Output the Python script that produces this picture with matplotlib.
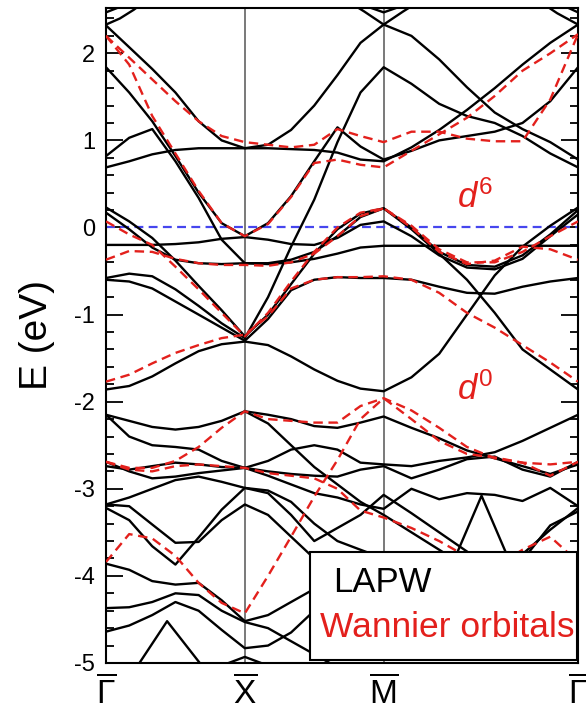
import numpy as np
import matplotlib
matplotlib.use('Agg')
import matplotlib.pyplot as plt
from matplotlib.ticker import MultipleLocator
from matplotlib.patches import Rectangle

plt.rcParams['font.family'] = ['Liberation Sans', 'DejaVu Sans']
plt.rcParams['mathtext.fontset'] = 'custom'
plt.rcParams['mathtext.rm'] = 'Liberation Sans'
plt.rcParams['mathtext.it'] = 'Liberation Sans:italic'
plt.rcParams['axes.unicode_minus'] = False

# k path  G - X - M - G
sym_k = [0.0, 1.0, 2.0, 3.4]
sym_labels = [r'$\overline{\Gamma}$', r'$\overline{\mathrm{X}}$',
              r'$\overline{\mathrm{M}}$', r'$\overline{\Gamma}$']
kpath = [0.0, 0.167, 0.333, 0.5, 0.667, 0.833, 1.0,
         1.167, 1.333, 1.5, 1.667, 1.833, 2.0,
         2.2, 2.4, 2.6, 2.8, 3.0, 3.2, 3.4]

# LAPW bands (eV) on kpath
b2 = [2.32, 2.07, 1.82, 1.55, 1.22, 1.00, 0.91, 0.95, 1.12, 1.40, 1.75, 2.12, 2.33, 2.20, 1.93, 1.61, 1.32, 1.13, 0.98, 0.78]
b3 = [1.84, 1.55, 1.22, 0.82, 0.40, 0.05, -0.10, 0.05, 0.36, 0.76, 1.15, 0.93, 0.78, 0.88, 1.00, 1.05, 1.10, 1.20, 1.45, 1.84]
b4 = [0.82, 1.03, 1.13, 0.76, 0.34, -0.14, -0.41, -0.41, -0.37, -0.28, -0.10, 0.12, 0.22, 0.00, -0.28, -0.43, -0.45, -0.32, -0.08, 0.20]
b5 = [0.69, 0.76, 0.84, 0.89, 0.91, 0.91, 0.91, 0.91, 0.90, 0.89, 0.86, 0.78, 0.76, 0.92, 1.12, 1.35, 1.60, 1.87, 2.12, 2.33]
b6 = [0.23, 0.07, -0.12, -0.38, -0.67, -0.95, -1.25, -1.00, -0.65, -0.30, -0.02, 0.16, 0.22, -0.02, -0.30, -0.60, -0.98, -1.40, -1.63, -1.86]
b7 = [-0.20, -0.20, -0.20, -0.19, -0.17, -0.13, -0.11, -0.14, -0.19, -0.20, -0.12, 0.03, 0.07, -0.10, -0.32, -0.46, -0.48, -0.36, -0.10, 0.15]
b8 = [0.17, -0.02, -0.23, -0.37, -0.41, -0.42, -0.41, -0.42, -0.40, -0.36, -0.30, -0.23, -0.21, -0.21, -0.21, -0.21, -0.21, -0.21, -0.21, -0.21]
b9 = [-0.58, -0.53, -0.56, -0.71, -0.90, -1.10, -1.27, -0.80, -0.22, 0.32, 0.98, 1.55, 1.84, 1.65, 1.42, 1.28, 1.20, 1.05, 0.85, 0.69]
b10 = [-0.60, -0.62, -0.70, -0.85, -1.00, -1.15, -1.30, -1.05, -0.72, -0.60, -0.57, -0.58, -0.58, -0.60, -0.68, -0.75, -0.76, -0.68, -0.62, -0.58]
b11 = [-1.86, -1.82, -1.71, -1.56, -1.42, -1.34, -1.31, -1.35, -1.48, -1.63, -1.76, -1.85, -1.88, -1.72, -1.45, -1.00, -0.55, -0.22, 0.02, 0.23]
c1 = [-2.15, -2.22, -2.29, -2.32, -2.29, -2.22, -2.11, -2.15, -2.20, -2.28, -2.30, -2.24, -2.17, -2.30, -2.42, -2.56, -2.65, -2.74, -2.83, -2.72]
c2 = [-2.15, -2.40, -2.50, -2.52, -2.55, -2.68, -2.76, -2.68, -2.55, -2.50, -2.55, -2.70, -2.72, -2.74, -2.68, -2.64, -2.58, -2.45, -2.30, -2.15]
c3 = [-2.69, -2.80, -2.88, -2.86, -2.82, -2.79, -2.76, -2.80, -2.83, -2.85, -2.86, -2.78, -2.74, -2.88, -2.78, -2.66, -2.63, -2.78, -2.86, -2.69]
c4 = [-2.74, -2.78, -2.74, -2.70, -2.72, -2.75, -2.76, -2.85, -2.95, -3.05, -3.10, -3.18, -3.23, -3.00, -3.12, -3.05, -3.07, -3.14, -2.99, -3.20]
c5 = [-3.18, -3.10, -3.00, -2.90, -2.86, -2.92, -2.99, -3.05, -3.30, -3.60, -3.45, -3.30, -3.07, -3.28, -3.50, -3.72, -3.95, -3.75, -3.47, -3.22]
c6 = [-3.18, -3.20, -3.41, -3.62, -3.61, -3.36, -3.18, -3.30, -3.55, -3.80, -4.00, -4.10, -4.20, -4.20, -4.15, -4.10, -4.05, -4.30, -4.50, -4.64]
c7 = [-3.22, -3.36, -3.66, -3.87, -3.56, -3.24, -2.99, -3.02, -3.15, -3.40, -3.60, -3.70, -3.80, -3.90, -4.00, -4.20, -4.30, -4.20, -4.00, -3.86]
c8 = [-3.86, -3.93, -4.06, -4.10, -4.08, -4.28, -4.52, -4.45, -4.30, -4.15, -4.00, -3.90, -3.85, -3.95, -4.10, -4.25, -4.35, -4.40, -4.38, -4.37]
c10 = [-4.64, -4.57, -4.45, -4.30, -4.40, -4.62, -4.83, -4.80, -4.65, -4.40, -4.20, -4.00, -3.90, -4.00, -4.20, -4.40, -4.50, -4.60, -4.65, -4.64]

# partial LAPW bands with their own k points
c9_k = kpath[:12]
c9 = [-4.37, -4.36, -4.30, -4.20, -4.22, -4.40, -4.53, -4.60, -4.75, -4.90, -5.05, -5.20]
d2_k = kpath[6:]
d2 = [-2.11, -2.25, -2.50, -2.75, -2.95, -3.15, -3.30, -3.50, -3.70, -3.90, -4.00, -3.82, -3.42, -3.26]
top_g1_k = [0.0, 0.1, 0.2, 0.3]
top_g1 = [2.33, 2.40, 2.50, 2.62]
top_g2_k = [0.0, 0.08, 0.16]
top_g2 = [2.47, 2.52, 2.60]
top_m_k = [1.72, 1.86, 2.0, 2.14, 2.28]
top_m = [2.62, 2.48, 2.33, 2.48, 2.62]
arc_m_k = [1.84, 2.0, 2.16]
arc_m = [2.56, 2.47, 2.56]
top_g3_k = [3.1, 3.25, 3.4]
top_g3 = [2.62, 2.46, 2.33]
top_g4_k = [3.25, 3.4]
top_g4 = [2.58, 2.47]
lam_gx_k = [0.22, 0.44, 0.70]
lam_gx = [-5.05, -4.52, -5.05]
arc_x_k = [0.8, 1.0, 1.2]
arc_x = [-5.05, -4.93, -5.05]
lam_mg_k = [2.525, 2.705, 2.885]
lam_mg = [-3.75, -3.08, -3.75]

# Wannier bands (eV) on kpath
r1 = [2.20, 1.95, 1.70, 1.45, 1.22, 1.05, 0.98, 0.95, 0.92, 0.95, 1.13, 1.05, 0.98, 1.10, 1.10, 1.02, 0.99, 0.99, 1.47, 2.22]
r2 = [2.20, 1.87, 1.28, 0.85, 0.42, 0.05, -0.10, 0.04, 0.35, 0.74, 0.78, 0.72, 0.69, 0.88, 1.07, 1.26, 1.51, 1.80, 2.00, 2.22]
r3 = [0.07, -0.08, -0.20, -0.45, -0.71, -0.98, -1.25, -0.98, -0.62, -0.28, 0.00, 0.17, 0.22, 0.02, -0.25, -0.40, -0.40, -0.28, -0.10, 0.07]
r4 = [-0.37, -0.27, -0.28, -0.36, -0.41, -0.43, -0.43, -0.44, -0.40, -0.30, -0.10, 0.13, 0.22, 0.00, -0.28, -0.42, -0.38, -0.22, -0.25, -0.37]
r5 = [-1.77, -1.69, -1.56, -1.44, -1.35, -1.27, -1.23, -1.02, -0.70, -0.60, -0.57, -0.57, -0.56, -0.60, -0.75, -0.98, -1.15, -1.35, -1.55, -1.77]
r6 = [-2.69, -2.76, -2.76, -2.68, -2.52, -2.30, -2.11, -2.20, -2.22, -2.24, -2.24, -2.05, -1.96, -2.10, -2.30, -2.52, -2.65, -2.70, -2.72, -2.69]
r7 = [-2.69, -2.78, -2.80, -2.74, -2.72, -2.74, -2.76, -2.82, -2.85, -2.88, -3.00, -3.25, -3.33, -3.45, -3.60, -3.78, -3.90, -3.70, -3.55, -3.84]
r8 = [-3.84, -3.52, -3.57, -3.77, -4.08, -4.31, -4.43, -4.00, -3.55, -3.09, -2.67, -2.20, -1.96, -2.20, -2.45, -2.60, -2.64, -2.70, -2.85, -2.69]

lapw_bands = [b2, b3, b4, b5, b6, b7, b8, b9, b10, b11,
              c1, c2, c3, c4, c5, c6, c7, c8, c10]
lapw_pieces = [(c9_k, c9), (d2_k, d2), (top_g1_k, top_g1), (top_g2_k, top_g2),
               (top_m_k, top_m), (arc_m_k, arc_m), (top_g3_k, top_g3),
               (top_g4_k, top_g4), (lam_gx_k, lam_gx), (arc_x_k, arc_x),
               (lam_mg_k, lam_mg)]
wannier_bands = [r1, r2, r3, r4, r5, r6, r7, r8]

red = '#e3201c'
dash = (0, (4, 2.4))

fig = plt.figure(figsize=(5.86, 7.09), dpi=100)
ax = fig.add_axes([0.1809, 0.0649, 0.8055, 0.9238])

for k in sym_k[1:-1]:
    ax.axvline(k, color='#6e6e6e', lw=1.3, zorder=1)
ax.axhline(0, color='#4646ee', lw=1.6, ls=dash, zorder=2)

for band in lapw_bands:
    ax.plot(kpath, band, color='black', lw=1.7, zorder=3)
for k, e in lapw_pieces:
    ax.plot(k, e, color='black', lw=1.7, zorder=3)
for band in wannier_bands:
    ax.plot(kpath, band, color=red, lw=1.7, ls=dash, zorder=4)

ax.set_xlim(sym_k[0], sym_k[-1])
ax.set_ylim(-5, 2.52)
ax.set_xticks(sym_k)
ax.set_xticklabels(sym_labels, fontsize=24)
ax.tick_params(axis='x', length=0, pad=9)

ax.yaxis.set_major_locator(MultipleLocator(1))
ax.yaxis.set_minor_locator(MultipleLocator(0.2))
ax.tick_params(axis='y', which='both', direction='in', left=True, right=True, width=1.3)
ax.tick_params(axis='y', which='major', length=12, labelsize=17, pad=8)
ax.tick_params(axis='y', which='minor', length=6)
ax.set_ylabel('E (eV)', fontsize=28, labelpad=14)
for s in ax.spines.values():
    s.set_linewidth(1.5)

ax.text(2.53, 0.23, r'$d^6$', color=red, fontsize=25, va='baseline', zorder=6)
ax.text(2.53, -1.98, r'$d^0$', color=red, fontsize=25, va='baseline', zorder=6)

# legend box
ax.add_patch(Rectangle((0.432, 0.005), 0.566, 0.164, transform=ax.transAxes,
                       facecolor='white', edgecolor='black', lw=1.5, zorder=10))
ax.text(0.481, 0.108, 'LAPW', transform=ax.transAxes, fontsize=25,
        color='black', va='baseline', zorder=11)
ax.text(0.453, 0.040, 'Wannier orbitals', transform=ax.transAxes, fontsize=25.5,
        color=red, va='baseline', zorder=11)

fig.savefig('out.png', dpi=100)
